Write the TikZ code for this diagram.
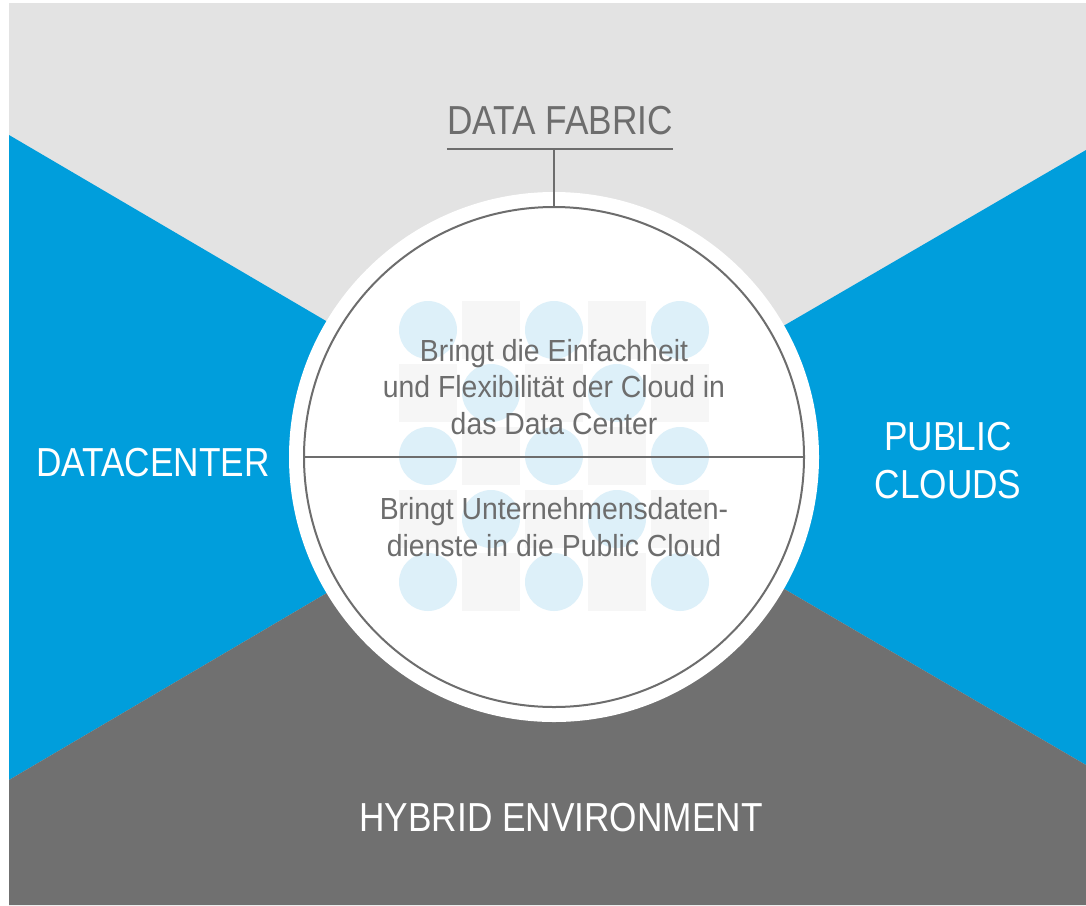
\documentclass[tikz,border=0pt]{standalone}
\usepackage{fontspec}
\setsansfont{Liberation Sans}[FakeStretch=0.87]
\newfontfamily\innerfont{Liberation Sans}[FakeStretch=0.93]
\definecolor{fabricgray}{HTML}{E3E3E3}
\definecolor{cloudblue}{HTML}{009EDC}
\definecolor{hybridgray}{HTML}{707070}
\definecolor{linegray}{HTML}{6D6D6D}
\definecolor{dotblue}{HTML}{DDF0F9}
\definecolor{tilegray}{HTML}{F6F6F6}
\begin{document}
\begin{tikzpicture}
[x=1pt,y=-1pt,
  bigtext/.style={font=\sffamily\fontsize{40.5}{48}\selectfont,inner sep=0pt,align=center},
  smalltext/.style={font=\innerfont\fontsize{30.5}{36.5}\selectfont,text=linegray,inner sep=0pt,align=center},
  dotdecorate/.style={shape=circle,fill=dotblue,minimum size=58pt,inner sep=0pt},
  tiledecorate/.style={shape=rectangle,fill=tilegray,minimum size=58pt,inner sep=0pt},
  linedecorate/.style={draw=linegray,line width=2pt}]
\useasboundingbox (0,0) rectangle (1086,905);
% areas
\fill[fabricgray] (9,3) rectangle (1086,905);
\coordinate (apex) at (558,457);
\fill[cloudblue] (9,135) -- (apex) -- (9,780) -- cycle;
\fill[cloudblue] (1086,150) -- (apex) -- (1086,765) -- cycle;
\fill[hybridgray] (9,780) -- (apex) -- (1086,765) -- (1086,905) -- (9,905) -- cycle;
% nodes or vertices
\node (hub) at (554,457) [shape=circle,fill=white,minimum size=530pt,inner sep=0pt] {};
\foreach \c in {0,...,4} {
  \foreach \r in {0,...,4} {
    \pgfmathtruncatemacro{\cellparity}{mod(\c+\r,2)}
    \ifnum\cellparity=0
      \node (dot-\c-\r) at (428+63*\c,330+63*\r) [dotdecorate] {};
    \else
      \node (tile-\c-\r) at (428+63*\c,330+63*\r) [tiledecorate] {};
    \fi
  }
}
\node (core) at (554,457) [shape=circle,linedecorate,minimum size=500pt,inner sep=0pt] {};
\node (fabric) at (560,134) [bigtext,text=linegray,anchor=base] {DATA FABRIC};
\coordinate (rule) at ([yshift=-15pt]fabric.base);
\node (datacenter) at (153,476) [bigtext,text=white,anchor=base] {DATACENTER};
\node (clouds) at (948,461) [bigtext,text=white] {PUBLIC\\CLOUDS};
\node (hybrid) at (561,831) [bigtext,text=white,anchor=base] {HYBRID ENVIRONMENT};
\node (upper) at (554,387) [smalltext] {Bringt die Einfachheit\\und Flexibilität der Cloud in\\das Data Center};
\node (lower) at (554,527) [smalltext] {Bringt Unternehmensdaten-\\dienste in die Public Cloud};
% edges or lines
\draw[linedecorate] (core.west) -- (core.east);
\draw[linedecorate] ([yshift=-15pt]fabric.base west) -- ([yshift=-15pt]fabric.base east);
\draw[linedecorate] (core.north) -- (core.north |- rule);
\end{tikzpicture}
\end{document}
